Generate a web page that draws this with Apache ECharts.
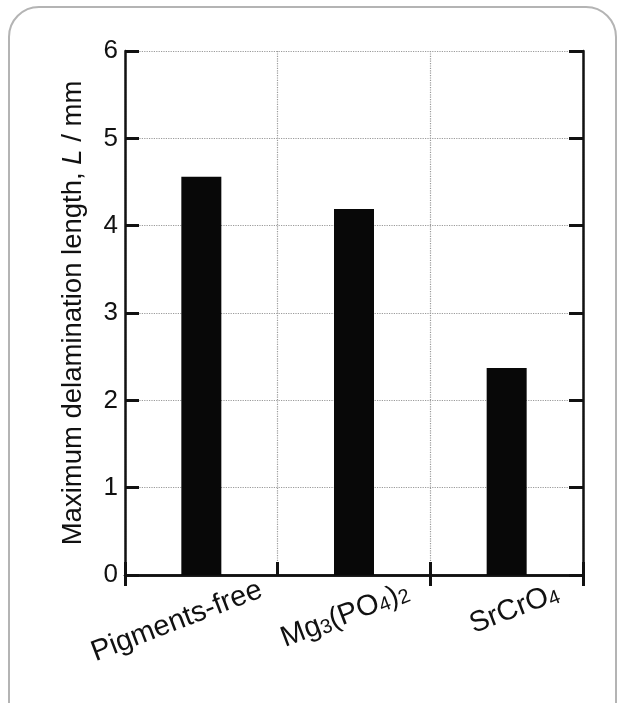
<!DOCTYPE html>
<html>
<head>
<meta charset="utf-8">
<script src="https://cdn.jsdelivr.net/npm/echarts@6/dist/echarts.min.js"></script>
<style>
  html, body { margin: 0; padding: 0; background: #fff; }
  #chart { width: 624px; height: 703px; }
</style>
</head>
<body>
<div id="chart"></div>
<script>
// categories shown under the bars (rich text for subscripts)
const categories = ['Pigments-free', 'Mg{sub|3}(PO{sub|4}){sub|2}', 'SrCrO{sub|4}'];
// maximum delamination length, mm
const lengths = [4.56, 4.19, 2.37];
const yTicks = [0, 1, 2, 3, 4, 5, 6];

const font = 'Liberation Sans, Arial, sans-serif';
const ink = '#111';
const dotted = { color: '#9a9a9a', type: 'dotted', width: 1.2 };

// label shift past the tick, px (rich labels measure a bit differently)
const labelShift = [64, 58, 55];
const xData = categories.map((c, i) => ({
  value: c,
  textStyle: { padding: [0, -labelShift[i], 0, 0] }
}));

const chart = echarts.init(document.getElementById('chart'), null, { renderer: 'canvas' });

const option = {
  animation: false,
  backgroundColor: '#fff',
  textStyle: { fontFamily: font, color: ink },
  graphic: [
    {
      type: 'rect',
      shape: { x: 9, y: 7, width: 607, height: 730, r: 30 },
      style: { fill: 'none', stroke: '#b4b4b4', lineWidth: 2 },
      silent: true
    }
  ],
  grid: { left: 125, right: 41, top: 51, bottom: 128, outerBoundsMode: 'none' },
  xAxis: [
    {
      type: 'category',
      data: xData,
      position: 'bottom',
      axisLine: { lineStyle: { color: ink, width: 2.5 } },
      axisTick: { show: true, inside: true, length: 13, lineStyle: { color: ink, width: 3 } },
      splitLine: { show: true, lineStyle: dotted },
      axisLabel: {
        interval: 0,
        rotate: 21,
        margin: 37,
        fontSize: 29,
        color: ink,
        fontFamily: font,
        rich: {
          sub: { fontSize: 20, color: ink, fontFamily: font, verticalAlign: 'bottom' }
        }
      }
    },
    {
      type: 'category',
      data: categories,
      position: 'top',
      axisLine: { lineStyle: { color: ink, width: 2.5 } },
      axisTick: { show: true, inside: true, length: 11, lineStyle: { color: ink, width: 3 } },
      axisLabel: { show: false },
      splitLine: { show: false }
    }
  ],
  yAxis: [
    {
      type: 'value',
      min: yTicks[0],
      max: yTicks[yTicks.length - 1],
      interval: 1,
      position: 'left',
      name: 'Maximum delamination length, {i|L} / mm',
      nameLocation: 'middle',
      nameGap: 38,
      nameTextStyle: {
        fontSize: 27.5,
        color: ink,
        fontFamily: font,
        rich: { i: { fontStyle: 'italic', fontSize: 27.5, color: ink, fontFamily: font } }
      },
      axisLine: { show: true, lineStyle: { color: ink, width: 2.5 } },
      axisTick: { show: true, inside: true, length: 14, lineStyle: { color: ink, width: 3 } },
      splitLine: { show: true, lineStyle: dotted },
      axisLabel: { fontSize: 26, color: ink, fontFamily: font, margin: 7 }
    },
    {
      type: 'value',
      min: yTicks[0],
      max: yTicks[yTicks.length - 1],
      interval: 1,
      position: 'right',
      axisLine: { show: true, lineStyle: { color: ink, width: 2.5 } },
      axisTick: { show: true, inside: true, length: 14, lineStyle: { color: ink, width: 3 } },
      splitLine: { show: false },
      axisLabel: { show: false }
    }
  ],
  series: [
    {
      type: 'bar',
      xAxisIndex: 0,
      yAxisIndex: 0,
      data: lengths,
      barWidth: 40,
      itemStyle: { color: '#080808' },
      z: 1
    }
  ]
};

chart.setOption(option);
</script>
</body>
</html>
